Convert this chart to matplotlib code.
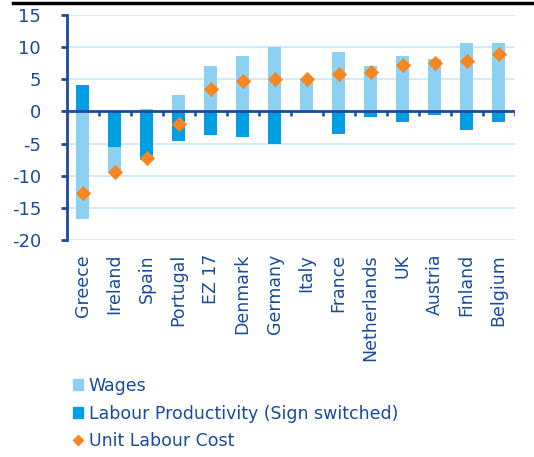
import matplotlib
matplotlib.use("Agg")
import matplotlib.pyplot as plt
import numpy as np
from matplotlib.lines import Line2D
from matplotlib.patches import Patch

countries = ["Greece", "Ireland", "Spain", "Portugal", "EZ 17", "Denmark", "Germany",
             "Italy", "France", "Netherlands", "UK", "Austria", "Finland", "Belgium"]
productivity = [4.1, -5.6, -7.6, -4.6, -3.7, -3.9, -5.0, -0.1, -3.5, -0.9, -1.7, -0.6, -2.9, -1.7]
wages = [-16.8, -4.0, 0.4, 2.6, 7.1, 8.6, 10.0, 5.1, 9.2, 7.0, 8.7, 8.1, 10.7, 10.6]
ulc = [-12.7, -9.4, -7.2, -2.0, 3.5, 4.7, 5.1, 5.1, 5.8, 6.2, 7.2, 7.6, 7.9, 8.9]
yticks = [15, 10, 5, 0, -5, -10, -15, -20]

LIGHT = "#8dd1f2"
DARK = "#009ee2"
ORANGE = "#f7861e"
NAVY = "#1a4a9c"
GRID = "#c8e8f8"

fig = plt.figure(figsize=(5.34, 4.57), dpi=100)
ax = fig.add_axes([66.7 / 534, 1 - 240 / 457, (514.7 - 66.7) / 534, 225 / 457])

x = np.arange(len(countries))
prod = np.array(productivity)
wag = np.array(wages)
w = 0.4

ax.bar(x, prod, width=w, color=DARK, zorder=2)
# stack wages on productivity when same sign, else from zero
base = np.where(np.sign(wag) == np.sign(prod), prod, 0.0)
ax.bar(x, wag, bottom=base, width=w, color=LIGHT, zorder=2)
ax.scatter(x, ulc, marker="D", s=60, color=ORANGE, zorder=4, linewidths=0)

ax.set_xlim(-0.5, len(countries) - 0.5)
ax.set_ylim(-20, 15)
ax.set_yticks(yticks)
ax.set_yticklabels([str(v) for v in yticks], fontsize=13)
for v in yticks:
    if v != 0:
        ax.axhline(v, color=GRID, lw=1.2, zorder=0)
ax.axhline(0, color=NAVY, lw=2, zorder=3)
# category boundary ticks below zero line
for b in np.arange(0.5, len(countries) + 0.5, 1.0):
    ax.plot([b, b], [0, -0.75], color=NAVY, lw=1.8, zorder=3, solid_capstyle="butt")

for s in ["top", "right", "bottom"]:
    ax.spines[s].set_visible(False)
ax.spines["left"].set_color(NAVY)
ax.spines["left"].set_linewidth(2)
ax.tick_params(axis="y", colors=NAVY, length=4.5, width=2, direction="out", pad=14)
ax.tick_params(axis="x", length=0)
ax.set_xticks(x)
ax.set_xticklabels(countries, rotation=90, color=NAVY, fontsize=12.5, va="top", ha="center")
ax.xaxis.set_tick_params(pad=10)

handles = [Patch(color=LIGHT), Patch(color=DARK),
           Line2D([], [], marker="D", color=ORANGE, linestyle="none", markersize=5.5)]
labels = ["Wages", "Labour Productivity (Sign switched)", "Unit Labour Cost"]
fig.legend(handles, labels, loc="upper left", bbox_to_anchor=(73 / 534, 1 - 377 / 457),
           frameon=False, fontsize=12.5, labelcolor=NAVY, handlelength=0.6, handleheight=0.6,
           handletextpad=0.3, labelspacing=0.55, borderpad=0, borderaxespad=0)

fig.add_artist(Line2D([13 / 534, 1], [1 - 2.5 / 457, 1 - 2.5 / 457], color="black", lw=2.5,
                      transform=fig.transFigure))

fig.savefig("out.png", dpi=100)
